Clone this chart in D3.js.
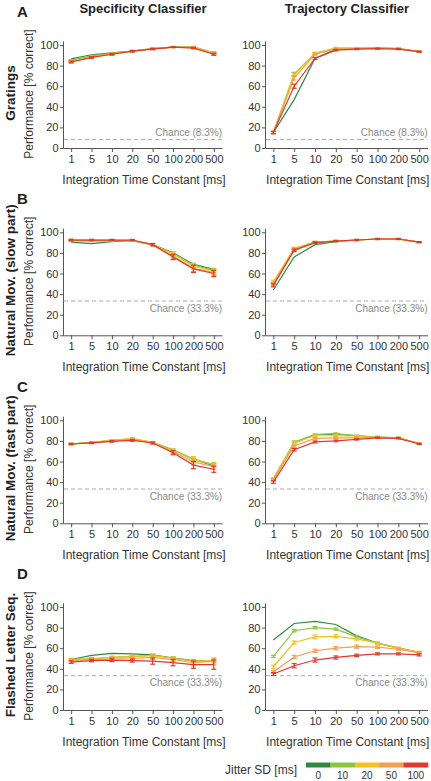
<!DOCTYPE html>
<html><head><meta charset="utf-8">
<script src="https://cdn.jsdelivr.net/npm/d3@7"></script>
<style>body{margin:0;background:#fff} svg{display:block} text{font-family:"Liberation Sans",Arial,Helvetica,sans-serif}</style>
</head><body><svg id="c" width="431" height="781"></svg>
<script>
const categories = ["1","5","10","20","50","100","200","500"];
const jitterLevels = ["0","10","20","50","100"];
const jitterColors = ["#2e8b3e","#8cc63e","#f5c21b","#f0a04e","#e0382f"];
const yTicks = [0,20,40,60,80,100];
const columnTitles = ["Specificity Classifier","Trajectory Classifier"];
const rowTitles = ["Gratings","Natural Mov. (slow part)","Natural Mov. (fast part)","Flashed Letter Seq."];
const panelLetters = ["A","B","C","D"];
const chanceLevels = [8.3, 33.3, 33.3, 33.3];
const chanceLabels = ["Chance (8.3%)","Chance (33.3%)","Chance (33.3%)","Chance (33.3%)"];

// series values: one row per jitter level (0,10,20,50,100 ms)
const gratingsSpecificity = [
  [86.5,90.5,92.5,94,96.5,98,98,92.5],
  [85,89.5,92,94,96.5,98,98,92.5],
  [84,88.5,91.5,94,96.5,98,98,92.5],
  [83.5,88,91,94,96.5,98,97.5,91.5],
  [83.5,88,91,94,96,98,97,91]];
const gratingsSpecificityErr = [
  [0,0,0,0,0,0,0,0],
  [0.7,0.7,0.7,0.7,0.6,0.5,0.6,0.8],
  [0.7,0.7,0.7,0.7,0.6,0.5,0.6,0.8],
  [0.8,0.8,0.7,0.7,0.6,0.5,0.6,0.9],
  [0.9,0.8,0.8,0.7,0.6,0.5,0.7,1]];
const gratingsTrajectory = [
  [15,47,87,96,96.5,97,96.5,93.5],
  [15,72,92,97,97,97,96.5,93.5],
  [15,71,92,97,97,97,96.5,93.5],
  [15,68,91,96,96.5,97,96.5,93.5],
  [15,60,87,95,96,96.5,96,93.5]];
const gratingsTrajectoryErr = [
  [0,0,0,0,0,0,0,0],
  [1,1.5,0.8,0.6,0.5,0.5,0.5,0.5],
  [1,1.5,0.8,0.6,0.5,0.5,0.5,0.5],
  [1,2,0.8,0.6,0.5,0.5,0.5,0.5],
  [1.2,2,1,0.7,0.5,0.5,0.5,0.5]];
const slowSpecificity = [
  [90.5,89,91,92,88,80,69,64],
  [92,91.5,92,92,88,79.5,68,63],
  [92.5,92,92,92,88,79,67,62],
  [92.5,92.5,92.5,92,88,77,65,61],
  [92.5,92.5,92.5,92.5,88,76,64.5,60]];
const slowSpecificityErr = [
  [0,0,0,0,0,0,0,0],
  [0.6,0.6,0.6,0.6,0.8,1.5,2,2],
  [0.6,0.6,0.6,0.6,0.9,1.8,2.5,2.5],
  [0.6,0.6,0.6,0.6,1,2,3,2.5],
  [0.7,0.6,0.6,0.6,1.2,2.5,3.5,3]];
const slowTrajectory = [
  [44,76,88,91,92.5,93.5,93.5,90.5],
  [50,84,90.5,91.5,92.5,93.5,93.5,90.5],
  [52,84.5,90.5,91.5,92.5,93.5,93.5,90.5],
  [50,83.5,90,91.5,92.5,93.5,93.5,90.5],
  [48.5,82.5,90,91.5,92.5,93.5,93.5,90.5]];
const slowTrajectoryErr = [
  [0,0,0,0,0,0,0,0],
  [1.5,1,0.7,0.6,0.5,0.5,0.5,0.5],
  [1.5,1,0.7,0.6,0.5,0.5,0.5,0.5],
  [1.5,1,0.7,0.6,0.5,0.5,0.5,0.5],
  [1.5,1.2,0.8,0.6,0.6,0.5,0.5,0.5]];
const fastSpecificity = [
  [77,78.5,80,81.5,78.5,71,62,56],
  [77,78.5,80.5,82,78.5,71,62.5,57],
  [77,78.5,80.5,82.5,78.5,70.5,62,57],
  [77,78,80,81.5,78,69.5,59.5,55],
  [77,78,79.5,80.5,78,68.5,56.5,52.5]];
const fastSpecificityErr = [
  [0,0,0,0,0,0,0,0],
  [0.6,0.6,0.7,0.8,0.8,1.2,2,1.5],
  [0.6,0.6,0.7,0.8,0.9,1.4,2.5,2],
  [0.6,0.6,0.7,0.8,1,1.6,3,2.5],
  [0.6,0.6,0.7,0.8,1,2,3.5,3]];
const fastTrajectory = [
  [43,78,86,86.5,85,83.5,83,77.5],
  [43,79,86,87,85,84,83,77.5],
  [43,78,85,85,84.5,83.5,83,77.5],
  [42,75,82.5,83,83,83.5,83,77.5],
  [40,71.5,79,80,81.5,83,82.5,77]];
const fastTrajectoryErr = [
  [0,0,0,0,0,0,0,0],
  [1,1,0.8,0.8,0.7,0.6,0.6,0.5],
  [1,1,0.8,0.8,0.7,0.6,0.6,0.5],
  [1,1,0.8,0.8,0.7,0.6,0.6,0.5],
  [1.2,1.2,1,0.8,0.7,0.6,0.6,0.5]];
const letterSpecificity = [
  [49,53,55,54.5,53.5,50.5,48,48],
  [49,50,51,52,53,50.5,47.5,48],
  [49,49.5,51,51.5,53,50,47.5,48],
  [48,49,49.5,50,51,49,46,47.5],
  [46.5,48,48.5,48,47.5,46,44,44]];
const letterSpecificityErr = [
  [0,0,0,0,0,0,0,0],
  [1,1,1,1,1.2,1.2,1.2,1.2],
  [1.2,1.2,1.2,1.2,1.5,1.5,1.5,1.5],
  [1.2,1.2,1.5,1.5,2,2,3,3],
  [1.2,1.2,1.5,1.5,3,3,3.5,4.5]];
const letterTrajectory = [
  [68,84,86,83,72,65,60,56],
  [52,77,80,78.5,71,65,60,56],
  [42,65.5,71,71.5,69,65,60,56],
  [37,51.5,57.5,60,61.5,61,59,55.5],
  [35,43,48.5,51,53,54.5,54.5,53.5]];
const letterTrajectoryErr = [
  [0,0,0,0,0,0,0,0],
  [1,1.2,1.2,1,1,0.8,0.8,0.8],
  [1.5,1.5,1.8,1.5,1.2,1,1,1],
  [1.5,1.5,1.5,1.5,1.5,1.2,1,1],
  [1.5,2,2,1.5,1.2,1,1,1]];

const panelValues = [
  [gratingsSpecificity, gratingsTrajectory],
  [slowSpecificity, slowTrajectory],
  [fastSpecificity, fastTrajectory],
  [letterSpecificity, letterTrajectory]];
const panelErrors = [
  [gratingsSpecificityErr, gratingsTrajectoryErr],
  [slowSpecificityErr, slowTrajectoryErr],
  [fastSpecificityErr, fastTrajectoryErr],
  [letterSpecificityErr, letterTrajectoryErr]];

// layout
const rowBase = [148, 335.3, 523.3, 710];
const pxPerUnit = 1.03;
const colRange = [[63, 222], [265, 427.5]];
const textColor = "#333";
const axisColor = "#555";

const svg = d3.select("#c");

// column titles
columnTitles.forEach((t, c) => {
  svg.append("text").attr("x", c === 0 ? 143 : 347).attr("y", 12.5)
    .attr("text-anchor", "middle").attr("font-size", 13).attr("font-weight", "bold")
    .attr("fill", "#222").text(t);
});

rowBase.forEach((base, r) => {
  const y = d3.scaleLinear().domain([0, 104]).range([base, base - 104 * pxPerUnit]);
  // panel letter
  svg.append("text").attr("x", 17).attr("y", base - 131.5)
    .attr("font-size", 15).attr("font-weight", "bold").attr("fill", "#222").text(panelLetters[r]);
  // row title
  svg.append("text").attr("transform", `translate(15,${base - 55}) rotate(-90)`)
    .attr("text-anchor", "middle").attr("font-size", 13.5).attr("font-weight", "bold")
    .attr("fill", "#222").text(rowTitles[r]);
  // y label
  svg.append("text").attr("transform", `translate(32.5,${base - 54}) rotate(-90)`)
    .attr("text-anchor", "middle").attr("font-size", 12).attr("fill", textColor)
    .text("Performance [% correct]");

  [0, 1].forEach(c => {
    const x = d3.scalePoint().domain(categories).range(colRange[c]).padding(0.4);
    const g = svg.append("g");
    // chance line
    const cy = y(chanceLevels[r]);
    g.append("line").attr("x1", colRange[c][0] + 1).attr("x2", colRange[c][1])
      .attr("y1", cy).attr("y2", cy).attr("stroke", "#aaa").attr("stroke-width", 1)
      .attr("stroke-dasharray", "4,3");
    g.append("text").attr("x", colRange[c][1]).attr("y", r === 0 ? cy - 3.5 : cy + 10.5)
      .attr("text-anchor", "end").attr("font-size", 10).attr("fill", "#888").text(chanceLabels[r]);

    // axes
    const ya = g.append("g").attr("transform", `translate(${colRange[c][0]},0)`)
      .call(d3.axisLeft(y).tickValues(yTicks).tickSize(3).tickSizeOuter(0).tickPadding(1.5));
    const xa = g.append("g").attr("transform", `translate(0,${base})`)
      .call(d3.axisBottom(x).tickSize(4).tickSizeOuter(0).tickPadding(3));
    [ya, xa].forEach(a => {
      a.selectAll("path,line").attr("stroke", axisColor);
      a.selectAll("text").attr("font-size", 11).attr("fill", textColor)
        .attr("font-family", '"Liberation Sans",Arial,sans-serif');
    });
    g.append("text").attr("x", (colRange[c][0] + colRange[c][1]) / 2 + 1.5).attr("y", base + 35.5)
      .attr("text-anchor", "middle").attr("font-size", 12).attr("fill", textColor)
      .text("Integration Time Constant [ms]");

    // series
    const vals = panelValues[r][c];
    const errs = panelErrors[r][c];
    const line = d3.line().x((d, i) => x(categories[i])).y(d => y(d));
    vals.forEach((s, k) => {
      const sg = g.append("g");
      sg.append("path").attr("d", line(s)).attr("fill", "none")
        .attr("stroke", jitterColors[k]).attr("stroke-width", 1.2);
      s.forEach((v, i) => {
        const e = errs[k][i];
        if (!e) return;
        const cx = x(categories[i]);
        sg.append("line").attr("x1", cx).attr("x2", cx).attr("y1", y(v - e)).attr("y2", y(v + e))
          .attr("stroke", jitterColors[k]).attr("stroke-width", 1.2);
        [v - e, v + e].forEach(w => {
          sg.append("line").attr("x1", cx - 2.5).attr("x2", cx + 2.5).attr("y1", y(w)).attr("y2", y(w))
            .attr("stroke", jitterColors[k]).attr("stroke-width", 1.2);
        });
      });
    });
  });
});

// legend
const lx = d3.scaleBand().domain(jitterLevels).range([306, 428]);
svg.append("text").attr("x", 297).attr("y", 774).attr("text-anchor", "end")
  .attr("font-size", 12).attr("fill", textColor).text("Jitter SD [ms]");
jitterLevels.forEach((j, k) => {
  svg.append("rect").attr("x", lx(j)).attr("y", 762.5).attr("width", lx.bandwidth() + 0.3)
    .attr("height", 5).attr("fill", jitterColors[k]);
  svg.append("text").attr("x", lx(j) + lx.bandwidth() / 2).attr("y", 779)
    .attr("text-anchor", "middle").attr("font-size", 10).attr("fill", textColor).text(j);
});
</script></body></html>
